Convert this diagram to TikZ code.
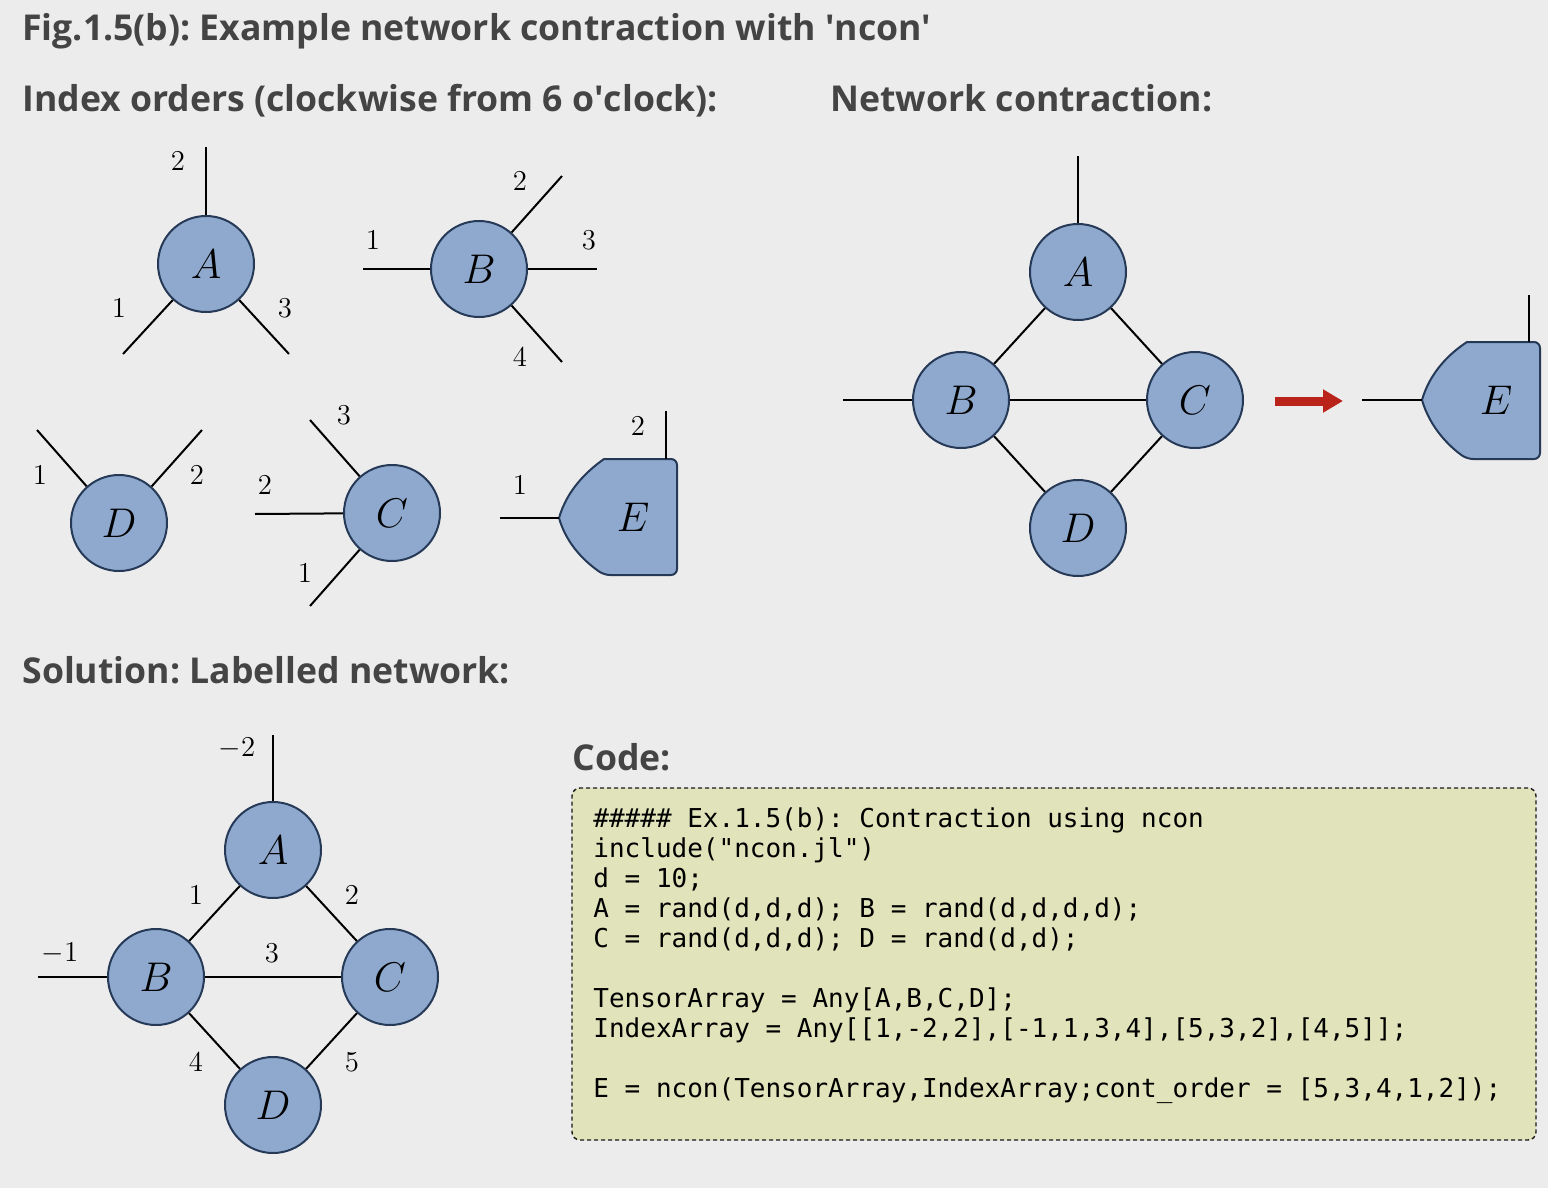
\documentclass[tikz,border=0pt]{standalone}
\usepackage{fontspec}
\setmainfont{Open Sans}
\setmonofont{DejaVu Sans Mono}
\usetikzlibrary{arrows.meta}
\definecolor{bggray}{RGB}{236,236,236}
\definecolor{headgray}{RGB}{68,68,68}
\definecolor{tnfill}{RGB}{142,169,205}
\definecolor{tnedge}{RGB}{38,58,88}
\definecolor{codefill}{RGB}{225,228,186}
\definecolor{arrowred}{RGB}{185,35,25}
\frenchspacing

\begin{document}
\begin{tikzpicture}[x=0.5pt,y=-0.5pt,
  tensor/.style={circle,draw=tnedge,fill=tnfill,line width=1pt,minimum size=48pt,inner sep=0pt,font=\fontsize{20}{20}\selectfont},
  tensorshape/.style={draw=tnedge,fill=tnfill,line width=1pt},
  tlabel/.style={font=\fontsize{20}{20}\selectfont},
  leg/.style={line width=1pt,black},
  idx/.style={font=\fontsize{15}{15}\selectfont},
  head/.style={anchor=base west,inner sep=0pt,text=headgray,font=\fontsize{17.8}{18}\selectfont\bfseries}]
		\fill[bggray] (0,0) rectangle (1548,1188);
		\useasboundingbox (0,0) rectangle (1548,1188);
		\node[head] (title) at (22,41) {Fig.1.5(b): Example network contraction with \textquotesingle ncon\textquotesingle};
		\node[head] (hindex) at (22,112) {Index orders (clockwise from 6 o\textquotesingle clock):};
		\node[head] (hcontr) at (830,112) {Network contraction:};
		\node[head] (hsol) at (22,683) {Solution: Labelled network:};
		\node[head] (hcode) at (572,770) {Code:};
		% single tensors
		\node[tensor] (A1) at (206,264) {$A$};
		\node[tensor] (B1) at (479,269) {$B$};
		\node[tensor] (D1) at (119,523) {$D$};
		\node[tensor] (C1) at (392,513) {$C$};
		\coordinate (A1a) at (123,354);
		\coordinate (A1b) at (206,147);
		\coordinate (A1c) at (289,354);
		\coordinate (B1a) at (363,269);
		\coordinate (B1b) at (562,176);
		\coordinate (B1c) at (597,269);
		\coordinate (B1d) at (562,362);
		\coordinate (D1a) at (37,430);
		\coordinate (D1b) at (202,430);
		\coordinate (C1a) at (310,606);
		\coordinate (C1b) at (255,514);
		\coordinate (C1c) at (310,420);
		\draw [leg] (A1) -- (A1a);
		\draw [leg] (A1) -- (A1b);
		\draw [leg] (A1) -- (A1c);
		\draw [leg] (B1) -- (B1a);
		\draw [leg] (B1) -- (B1b);
		\draw [leg] (B1) -- (B1c);
		\draw [leg] (B1) -- (B1d);
		\draw [leg] (D1) -- (D1a);
		\draw [leg] (D1) -- (D1b);
		\draw [leg] (C1) -- (C1a);
		\draw [leg] (C1) -- (C1b);
		\draw [leg] (C1) -- (C1c);
		\node[idx] (lA1a) at (119,308) {$1$};
		\node[idx] (lA1b) at (178,161) {$2$};
		\node[idx] (lA1c) at (285,308) {$3$};
		\node[idx] (lB1a) at (373,240) {$1$};
		\node[idx] (lB1b) at (520,181) {$2$};
		\node[idx] (lB1c) at (589,240) {$3$};
		\node[idx] (lB1d) at (520,357) {$4$};
		\node[idx] (lD1a) at (40,475) {$1$};
		\node[idx] (lD1b) at (197,475) {$2$};
		\node[idx] (lC1a) at (305,573) {$1$};
		\node[idx] (lC1b) at (265,485) {$2$};
		\node[idx] (lC1c) at (344,415) {$3$};
		\draw [tensorshape,shift={(559,518)}] (0,0) .. controls (8,-28) and (28,-47) .. (45,-59) [rounded corners=3pt] -- (118,-59) -- (118,57) -- (45,57) [sharp corners] .. controls (28,45) and (8,28) .. (0,0) -- cycle;
		\coordinate (E1tip) at (559,518);
		\coordinate (E1top) at (666,459);
		\coordinate (E1a) at (500,518);
		\coordinate (E1b) at (666,411);
		\node[tlabel] (E1) at (633,517) {$E$};
		\draw [leg] (E1tip) -- (E1a);
		\draw [leg] (E1top) -- (E1b);
		\node[idx] (lE1a) at (520,485) {$1$};
		\node[idx] (lE1b) at (638,426) {$2$};
		% network contraction
		\node[tensor] (A2) at (1078,272) {$A$};
		\node[tensor] (B2) at (961,400) {$B$};
		\node[tensor] (C2) at (1195,400) {$C$};
		\node[tensor] (D2) at (1078,528) {$D$};
		\coordinate (A2b) at (1078,156);
		\coordinate (B2a) at (843,400);
		\draw [leg] (A2) -- (A2b);
		\draw [leg] (B2) -- (B2a);
		\draw [leg] (A2) -- (B2);
		\draw [leg] (A2) -- (C2);
		\draw [leg] (B2) -- (C2);
		\draw [leg] (B2) -- (D2);
		\draw [leg] (C2) -- (D2);
		\coordinate (arrS) at (1275,401);
		\coordinate (arrE) at (1343,401);
		\draw [arrowred,line width=4.5pt,-{Triangle[length=10pt,width=11pt]}] (arrS) -- (arrE);
		\draw [tensorshape,shift={(1422,400)}] (0,0) .. controls (8,-28) and (28,-47) .. (45,-58) [rounded corners=3pt] -- (118,-58) -- (118,59) -- (45,59) [sharp corners] .. controls (28,47) and (8,28) .. (0,0) -- cycle;
		\coordinate (E2tip) at (1422,400);
		\coordinate (E2top) at (1529,342);
		\coordinate (E2a) at (1362,400);
		\coordinate (E2b) at (1529,295);
		\node[tlabel] (E2) at (1496,400) {$E$};
		\draw [leg] (E2tip) -- (E2a);
		\draw [leg] (E2top) -- (E2b);
		% labelled network
		\node[tensor] (A3) at (273,850) {$A$};
		\node[tensor] (B3) at (156,977) {$B$};
		\node[tensor] (C3) at (390,977) {$C$};
		\node[tensor] (D3) at (273,1105) {$D$};
		\coordinate (A3b) at (273,735);
		\coordinate (B3a) at (38,977);
		\draw [leg] (A3) -- (A3b);
		\draw [leg] (B3) -- (B3a);
		\draw [leg] (A3) -- (B3);
		\draw [leg] (A3) -- (C3);
		\draw [leg] (B3) -- (C3);
		\draw [leg] (B3) -- (D3);
		\draw [leg] (C3) -- (D3);
		\node[idx] (lm2) at (237,748) {$-2$};
		\node[idx] (lm1) at (60,953) {$-1$};
		\node[idx] (l1) at (196,895) {$1$};
		\node[idx] (l2) at (352,895) {$2$};
		\node[idx] (l3) at (272,953) {$3$};
		\node[idx] (l4) at (196,1062) {$4$};
		\node[idx] (l5) at (352,1062) {$5$};
		% code
		\node[draw=black!90,dashed,dash pattern=on 2pt off 1.5pt,line width=0.7pt,rounded corners=4pt,fill=codefill,minimum width=482pt,minimum height=176pt] (codebox) at (1054,964) {};
		\node[anchor=north west,inner sep=0pt,align=left,font=\ttfamily\fontsize{13}{15}\selectfont] (code) at (593,807) {\#\#\#\#\# Ex.1.5(b): Contraction using ncon\\
include("ncon.jl")\\
d = 10;\\
A = rand(d,d,d); B = rand(d,d,d,d);\\
C = rand(d,d,d); D = rand(d,d);\\[15pt]
TensorArray = Any[A,B,C,D];\\
IndexArray = Any[[1,-2,2],[-1,1,3,4],[5,3,2],[4,5]];\\[15pt]
E = ncon(TensorArray,IndexArray;cont\_order = [5,3,4,1,2]);};
	\end{tikzpicture}
\end{document}
